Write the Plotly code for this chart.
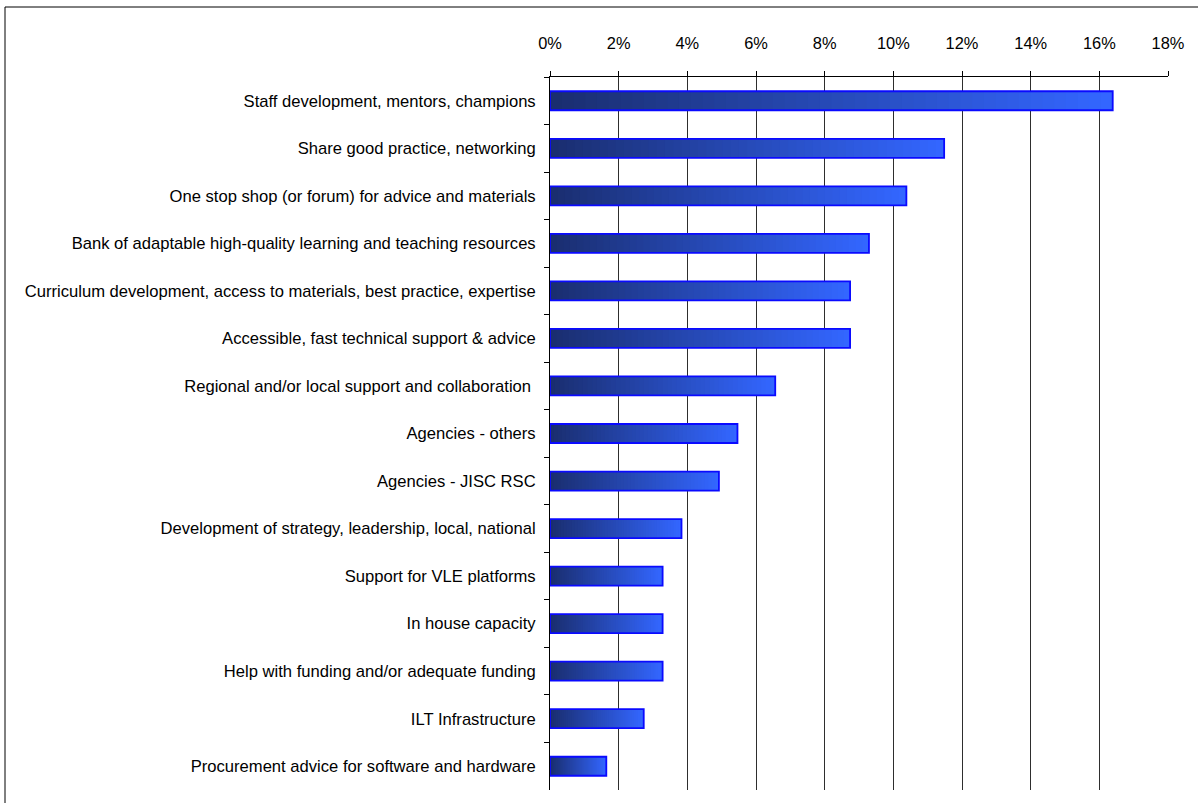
import plotly.graph_objects as go

# Responses (share of 183 mentions), listed top to bottom
categories = [
    "Staff development, mentors, champions",
    "Share good practice, networking",
    "One stop shop (or forum) for advice and materials",
    "Bank of adaptable high-quality learning and teaching resources",
    "Curriculum development, access to materials, best practice, expertise",
    "Accessible, fast technical support & advice",
    "Regional and/or local support and collaboration ",
    "Agencies - others",
    "Agencies - JISC RSC",
    "Development of strategy, leadership, local, national",
    "Support for VLE platforms",
    "In house capacity",
    "Help with funding and/or adequate funding",
    "ILT Infrastructure",
    "Procurement advice for software and hardware",
]
percent = [16.39, 11.48, 10.38, 9.29, 8.74, 8.74, 6.56, 5.46, 4.92, 3.83,
           3.28, 3.28, 3.28, 2.73, 1.64]
tick_values = [0, 2, 4, 6, 8, 10, 12, 14, 16, 18]
tick_text = ["0%", "2%", "4%", "6%", "8%", "10%", "12%", "14%", "16%", "18%"]

W, H = 1198, 803
ML, MR, MT, MB = 550, 30, 77, 13

FAMILY = "Liberation Sans, Arial, sans-serif"

# horizontal colour ramp inside each bar: dark navy -> bright blue
C0 = (26, 46, 112)
C1 = (51, 102, 255)
STEPS = 48

fig = go.Figure()
for k in range(STEPS):
    t = k / (STEPS - 1)
    col = "rgb(%d,%d,%d)" % tuple(round(a + (b - a) * t) for a, b in zip(C0, C1))
    f = k / STEPS
    fig.add_trace(go.Bar(
        y=categories,
        x=[v * (1 - f) for v in percent],
        base=[v * f for v in percent],
        orientation="h",
        marker=dict(color=col, line=dict(width=0)),
        hoverinfo="skip",
        showlegend=False,
    ))

# outline of each bar
fig.add_trace(go.Bar(
    y=categories,
    x=percent,
    orientation="h",
    marker=dict(color="rgba(0,0,0,0)", line=dict(color="#0a0aff", width=1.8)),
    hovertemplate="%{y}: %{x:.1f}%<extra></extra>",
    showlegend=False,
))

plot_w = W - ML - MR
plot_h = H - MT - MB

fig.update_layout(
    width=W, height=H,
    margin=dict(l=ML, r=MR, t=MT, b=MB, pad=0),
    paper_bgcolor="white", plot_bgcolor="white",
    barmode="overlay", bargap=0.6,
    font=dict(family=FAMILY, size=16, color="#000000"),
    xaxis=dict(
        side="top", range=[0, 18], tickvals=tick_values, ticktext=tick_text,
        tickfont=dict(family=FAMILY, size=16.4, color="#000000"),
        showgrid=True, gridcolor="#2e2e2e", gridwidth=1,
        showline=True, linecolor="#000000", linewidth=1,
        ticks="outside", ticklen=5, tickcolor="#000000",
        ticklabelstandoff=15, zeroline=False, fixedrange=True,
    ),
    yaxis=dict(
        autorange="reversed", type="category",
        tickfont=dict(family=FAMILY, size=16.6, color="#000000"),
        showline=True, linecolor="#000000", linewidth=1,
        ticks="outside", tickson="boundaries", ticklen=5, tickcolor="#000000",
        ticklabelstandoff=10, showgrid=False, fixedrange=True,
    ),
    shapes=[dict(
        type="rect", xref="paper", yref="paper",
        x0=(5 - ML) / plot_w, x1=(W + 10 - ML) / plot_w,
        y0=(H - MB - (H + 10)) / plot_h, y1=(H - MB - 7) / plot_h,
        line=dict(color="#000000", width=1), fillcolor="rgba(0,0,0,0)",
        layer="below",
    )],
)

fig.write_html("out.html")
